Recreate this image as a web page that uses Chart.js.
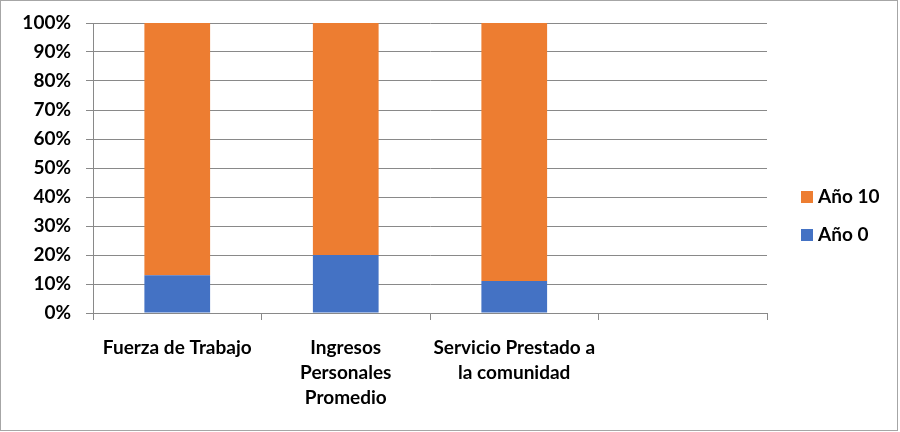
<!DOCTYPE html>
<html>
<head>
<meta charset="utf-8">
<script src="https://cdn.jsdelivr.net/npm/chart.js@4.4.0/dist/chart.umd.min.js"></script>
<style>
  html, body { margin: 0; padding: 0; background: #fff; }
  #wrap { width: 900px; height: 432px; }
</style>
</head>
<body>
<div id="wrap"><canvas id="grafico"></canvas></div>
<script>
// categorias (la cuarta va vacía, como en el original)
var categorias = [["Fuerza de Trabajo"], ["Ingresos", "Personales", "Promedio"], ["Servicio Prestado a", "la comunidad"], [""]];
var anio0 = [13, 20, 11, null];
var anio10 = [87, 80, 89, null];
var ticksY = [0, 10, 20, 30, 40, 50, 60, 70, 80, 90, 100];

var gris = "#898989";
var fuente = "Lato, 'Open Sans', sans-serif";

// leyenda a la derecha y marco exterior
var extras = {
    id: "extras",
    afterDraw: function(chart){
        var c = chart.ctx;
        c.save();
        c.strokeStyle = "#a6a6a6";
        c.lineWidth = 1;
        c.strokeRect(0.5, 0.5, 897, 430);
        c.font = "bold 19px " + fuente;
        c.textBaseline = "middle";
        c.fillStyle = "#000";
        var items = chart.data.datasets.slice().reverse();
        var y = 197;
        items.forEach(function(ds){
            c.fillStyle = ds.backgroundColor;
            c.fillRect(801, y - 6, 12, 12);
            c.fillStyle = "#000";
            c.fillText(ds.label, 818, y);
            y += 38;
        });
        c.restore();
    }
};

var config = {
    type: "bar",
    data: {
        labels: categorias,
        datasets: [
            { label: "Año 0", data: anio0, backgroundColor: "#4472C4" },
            { label: "Año 10", data: anio10, backgroundColor: "#ED7D31" }
        ]
    },
    options: {
        responsive: true,
        maintainAspectRatio: false,
        animation: false,
        layout: { padding: { top: 23, right: 133, left: 0, bottom: 0 } },
        datasets: { bar: { categoryPercentage: 1.0, barPercentage: 0.39 } },
        plugins: { legend: { display: false }, tooltip: { enabled: false } },
        scales: {
            x: {
                stacked: true,
                grid: { drawOnChartArea: false, offset: true, tickLength: 7, color: gris },
                border: { color: gris },
                ticks: {
                    color: "#000",
                    padding: 16,
                    maxRotation: 0,
                    autoSkip: false,
                    font: { family: fuente, size: 19, weight: "bold", lineHeight: 1.3 }
                },
                afterFit: function(s){ s.height = 119; s.paddingLeft = 0; s.paddingRight = 0; }
            },
            y: {
                stacked: true,
                min: 0,
                max: 100,
                afterBuildTicks: function(s){ s.ticks = ticksY.map(function(v){ return { value: v }; }); },
                grid: { color: gris, tickLength: 7 },
                border: { color: gris },
                ticks: {
                    color: "#000",
                    padding: 15,
                    callback: function(v){ return v + "%"; },
                    font: { family: fuente, size: 19, weight: "bold" }
                },
                afterFit: function(s){ s.width = 93; s.paddingTop = 0; s.paddingBottom = 0; }
            }
        }
    },
    plugins: [extras]
};

new Chart(document.getElementById("grafico"), config);
</script>
</body>
</html>
